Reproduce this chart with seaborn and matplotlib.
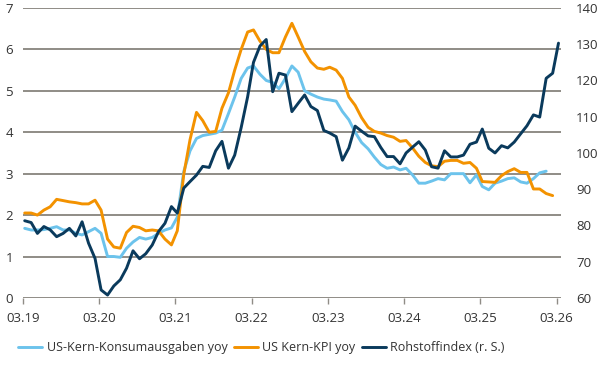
import numpy as np
import pandas as pd
import seaborn as sns
import matplotlib.pyplot as plt
import matplotlib.dates as mdates

# ---------------------- Data (monthly, from 03.2019) ------------------------
core_pce = [1.68, 1.64, 1.64, 1.65, 1.68, 1.72, 1.64, 1.64, 1.56, 1.52,
            1.60, 1.68, 1.56, 1.00, 1.00, 0.98, 1.20, 1.35, 1.46, 1.42, 1.46, 1.56,
            1.64, 1.69, 1.95, 3.05, 3.55, 3.85, 3.92, 3.95, 3.98, 4.05, 4.45, 4.85,
            5.30, 5.55, 5.60, 5.40, 5.25, 5.20, 5.05, 5.30, 5.60, 5.45, 5.00, 4.92,
            4.85, 4.80, 4.78, 4.75, 4.50, 4.30, 4.00, 3.75, 3.60, 3.40, 3.22, 3.13,
            3.16, 3.09, 3.13, 2.97, 2.77, 2.77, 2.82, 2.88, 2.85, 3.00, 3.00, 3.00,
            2.78, 2.97, 2.69, 2.61, 2.77, 2.82, 2.88, 2.90, 2.80, 2.77, 2.88, 3.02,
            3.06]

core_cpi = [2.05, 2.05, 2.00, 2.12, 2.20, 2.38, 2.35, 2.32, 2.30, 2.27,
            2.27, 2.36, 2.12, 1.42, 1.23, 1.20, 1.58, 1.73, 1.70, 1.62, 1.64, 1.62,
            1.42, 1.28, 1.62, 2.98, 3.82, 4.48, 4.28, 4.00, 4.02, 4.58, 4.95, 5.50,
            6.00, 6.42, 6.47, 6.20, 6.00, 5.92, 5.92, 6.30, 6.63, 6.30, 5.95, 5.70,
            5.55, 5.52, 5.57, 5.50, 5.30, 4.85, 4.65, 4.35, 4.12, 4.02, 3.98, 3.92,
            3.88, 3.78, 3.80, 3.62, 3.42, 3.27, 3.19, 3.17, 3.30, 3.32, 3.32, 3.25,
            3.27, 3.13, 2.81, 2.80, 2.79, 2.95, 3.05, 3.12, 3.03, 3.03, 2.63, 2.63,
            2.52, 2.47]

commodity = [81.3, 80.8, 77.8, 79.7, 78.8, 76.9, 77.8, 79.2, 77.1, 81.0,
             75.1, 70.9, 62.2, 60.8, 63.3, 65.0, 68.2, 73.0, 70.8, 72.2, 74.6, 78.3,
             80.6, 85.2, 83.4, 90.3, 92.1, 93.9, 96.3, 96.0, 100.6, 103.2, 95.8, 99.4,
             107.0, 115.5, 125.0, 129.5, 131.3, 116.9, 122.0, 121.5, 111.4, 113.7, 116.0, 112.8,
             111.7, 106.2, 105.5, 104.5, 98.0, 101.4, 107.4, 106.0, 104.7, 104.5, 101.5, 99.0,
             99.0, 97.0, 100.0, 101.6, 103.1, 100.8, 96.2, 95.8, 100.6, 98.9, 98.9, 99.4,
             102.4, 103.0, 106.6, 101.3, 100.0, 102.0, 101.4, 103.0, 105.3, 107.5, 110.5, 109.9,
             120.6, 122.0, 130.3]

labels = ["US-Kern-Konsumausgaben yoy", "US Kern-KPI yoy", "Rohstoffindex (r. S.)"]
colors = ["#6cc3ec", "#f39200", "#0a3a5c"]

# points sit a little after the month start, like in the original
months = pd.date_range("2019-03-01", periods=len(commodity), freq="MS") + pd.Timedelta(days=9)
df_pce = pd.DataFrame({"date": months[:len(core_pce)], "value": core_pce})
df_cpi = pd.DataFrame({"date": months[:len(core_cpi)], "value": core_cpi})
df_com = pd.DataFrame({"date": months, "value": commodity})

# ------------------ Style ----------------------
sns.set_style("white")
plt.rcParams["font.family"] = ["Open Sans", "DejaVu Sans"]
plt.rcParams["text.color"] = "#333333"
FS = 9.5

fig = plt.figure(figsize=(6, 3.8), dpi=100)
ax = fig.add_axes([0.038, 0.216, 0.897, 0.763])
ax2 = ax.twinx()

sns.lineplot(data=df_pce, x="date", y="value", ax=ax, color=colors[0], lw=2.1, label=labels[0], legend=False)
sns.lineplot(data=df_cpi, x="date", y="value", ax=ax, color=colors[1], lw=2.1, label=labels[1], legend=False)
sns.lineplot(data=df_com, x="date", y="value", ax=ax2, color=colors[2], lw=2.1, label=labels[2], legend=False)

ax.set_ylim(0, 7)
ax.set_yticks(range(0, 8))
ax2.set_ylim(60, 140)
ax2.set_yticks(range(60, 141, 10))
ax.set_xlim(pd.Timestamp("2019-03-01"), pd.Timestamp("2026-03-22"))
ax.set_xticks(pd.date_range("2019-03-01", "2026-03-01", freq="12MS"))
ax.xaxis.set_major_formatter(mdates.DateFormatter("%m.%y"))

ax.grid(axis="y", color="#8f8c86", lw=1.4)
ax.grid(axis="x", visible=False)
ax.set_axisbelow(True)
for a in (ax, ax2):
    for s in a.spines.values():
        s.set_visible(False)
    a.set_xlabel("")
    a.set_ylabel("")

ax.tick_params(axis="y", length=0, pad=7, labelcolor="#333333", labelsize=FS)
ax2.tick_params(axis="y", length=0, pad=11, labelcolor="#333333", labelsize=FS)
ax.tick_params(axis="x", length=4, width=1, color="#8f8c86", pad=6, labelsize=FS,
               labelcolor="#333333", bottom=True)

h1, l1 = ax.get_legend_handles_labels()
h2, l2 = ax2.get_legend_handles_labels()
fig.legend(h1 + h2, l1 + l2, loc="center", bbox_to_anchor=(0.436, 0.085), ncol=3,
           frameon=False, handlelength=1.9, handletextpad=0.35, columnspacing=0.55,
           fontsize=9)

fig.savefig("out.png", dpi=100)
